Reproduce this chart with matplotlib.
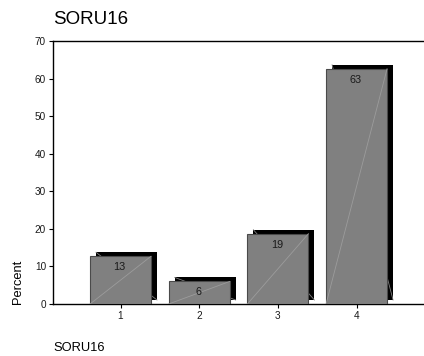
import matplotlib
matplotlib.use("Agg")
import matplotlib.pyplot as plt
import matplotlib.transforms as mtransforms

# Response shares for SORU16
categories = [1, 2, 3, 4]
percents = [12.7, 6.0, 18.7, 62.6]
bar_labels = ["13", "6", "19", "63"]
y_ticks = [0, 10, 20, 30, 40, 50, 60, 70]

plt.rcParams['font.family'] = ['Liberation Sans', 'DejaVu Sans']

fig = plt.figure(figsize=(4.24, 3.56), dpi=100)
ax = fig.add_axes([53 / 424, 52 / 356, 371 / 424, 263 / 356])

width = 0.775

# drop shadow: same bars shifted right and up by a few pixels
shift = mtransforms.ScaledTranslation(6 / 100, 4 / 100, fig.dpi_scale_trans)
shadow_tr = ax.transData + shift
ax.bar(categories, percents, width, color='black', transform=shadow_tr, zorder=2)
for x, v in zip(categories, percents):
    ax.plot([x - width / 2, x + width / 2], [v, 0], color='#808080', lw=0.6,
            transform=shadow_tr, zorder=2.5)

# front bars with a faint diagonal
ax.bar(categories, percents, width, color='#808080', edgecolor='#4a4a4a',
       linewidth=0.8, zorder=3)
for x, v in zip(categories, percents):
    ax.plot([x - width / 2, x + width / 2], [0, v], color='#9c9c9c', lw=0.6, zorder=3.5)

# value labels just below the top of each bar
label_off = mtransforms.ScaledTranslation(-1 / 100, -11 / 100, fig.dpi_scale_trans)
for x, v, lab in zip(categories, percents, bar_labels):
    ax.text(x, v, lab, ha='center', va='center', fontsize=7.8, color='#1a1a1a',
            transform=ax.transData + label_off, zorder=4)

ax.set_xlim(0.142, 4.857)
ax.set_ylim(0, 70)
ax.set_xticks(categories)
ax.set_yticks(y_ticks)
ax.tick_params(axis='both', labelsize=7.2, length=3, width=0.8, colors='black',
               labelcolor='#1a1a1a', pad=2)
for side in ['left', 'bottom', 'top']:
    ax.spines[side].set_linewidth(1.0)
ax.spines['right'].set_visible(False)

fig.text(53 / 424, 1 - 19 / 356, "SORU16", fontsize=13.5, ha='left', va='center')
fig.text(18 / 424, 1 - 282 / 356, "Percent", fontsize=9.3, rotation=90,
         ha='center', va='center')
fig.text(53 / 424, 1 - 348 / 356, "SORU16", fontsize=9.3, ha='left', va='center')

fig.savefig("out.png", dpi=100)
